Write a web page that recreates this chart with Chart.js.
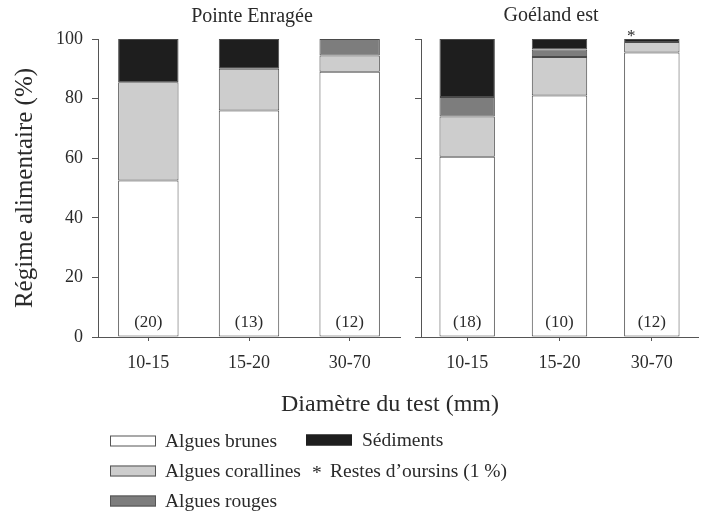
<!DOCTYPE html>
<html lang="fr">
<head>
<meta charset="utf-8">
<title>Régime alimentaire</title>
<script src="https://cdn.jsdelivr.net/npm/chart.js@4/dist/chart.umd.min.js"></script>
<style>
  html, body { margin: 0; padding: 0; background: #ffffff; }
  #wrap { position: relative; width: 706px; height: 513px; overflow: hidden;
          font-family: 'Liberation Serif', 'Times New Roman', serif; color: #2a2a2a; }
  canvas { position: absolute; left: 0; top: 0; }
  .txt { position: absolute; white-space: nowrap; line-height: 1; }
  .panel-title { font-size: 20px; transform: translate(-50%, -50%); }
  .axis-title { font-size: 24px; transform: translate(-50%, -50%); }
  .leg { font-size: 19.5px; transform: translateY(-50%); }
  .sw { position: absolute; height: 9px; width: 44px; border: 1px solid #555; box-sizing: content-box; transform: translateY(-50%); }
</style>
</head>
<body>
<div id="wrap">
  <canvas id="left" width="706" height="513"></canvas>
  <canvas id="right" width="706" height="513"></canvas>

  <div class="txt panel-title" style="left:252px; top:15px;">Pointe Enragée</div>
  <div class="txt panel-title" style="left:551px; top:14px;">Goéland est</div>
  <div class="txt axis-title" style="left:390px; top:403px;">Diamètre du test (mm)</div>

  <!-- legend -->
  <div class="sw" style="left:110px; top:441px; background:#ffffff;"></div>
  <div class="txt leg" style="left:165px; top:441px;">Algues brunes</div>
  <div class="sw" style="left:110px; top:471px; background:#cdcdcd;"></div>
  <div class="txt leg" style="left:165px; top:471px;">Algues corallines</div>
  <div class="sw" style="left:110px; top:501px; background:#7d7d7d;"></div>
  <div class="txt leg" style="left:165px; top:501px;">Algues rouges</div>
  <div class="sw" style="left:306px; top:440px; background:#1e1e1e; border-color:#1e1e1e;"></div>
  <div class="txt leg" style="left:362px; top:440px;">Sédiments</div>
  <div class="txt leg" style="left:312px; top:473px;">*</div>
  <div class="txt leg" style="left:330px; top:471px;">Restes d’oursins (1 %)</div>
</div>

<script>
// Size classes of the test diameter (mm)
const categories = ['10-15', '15-20', '30-70'];

// Diet composition (%) — Pointe Enragée
const brunesPE     = [52.5, 76, 89];
const corallinesPE = [33, 14, 5.5];
const rougesPE     = [0, 0, 5.5];
const sedimentsPE  = [14.5, 10, 0];
const countsPE     = [20, 13, 12];

// Diet composition (%) — Goéland est
const brunesGE     = [60.5, 81, 95.5];
const corallinesGE = [13.5, 13, 3.5];
const rougesGE     = [6.5, 2.5, 0];
const sedimentsGE  = [19.5, 3.5, 1];
const countsGE     = [18, 10, 12];

// Classes where urchin remains (1 %) were found
const oursinsGE = [false, false, true];

const yTicks = [0, 20, 40, 60, 80, 100];

const FONT = "'Liberation Serif', 'Times New Roman', serif";
const INK = '#2a2a2a';
const LINE = '#555555';
const COLORS = {
  brunes: '#ffffff',
  corallines: '#cdcdcd',
  rouges: '#7d7d7d',
  sediments: '#1e1e1e'
};

function datasets(brunes, corallines, rouges, sediments) {
  const base = { borderColor: '#4a4a4a', borderWidth: 1, borderSkipped: false,
                 barPercentage: 0.6, categoryPercentage: 1.0, inflateAmount: 0 };
  return [
    Object.assign({ label: 'Algues brunes', data: brunes, backgroundColor: COLORS.brunes }, base),
    Object.assign({ label: 'Algues corallines', data: corallines, backgroundColor: COLORS.corallines }, base),
    Object.assign({ label: 'Algues rouges', data: rouges, backgroundColor: COLORS.rouges }, base),
    Object.assign({ label: 'Sédiments', data: sediments, backgroundColor: COLORS.sediments }, base)
  ];
}

// Sample sizes written inside the base of each bar, plus the asterisk marker
const annotations = {
  id: 'annotations',
  afterDatasetsDraw(chart, args, opts) {
    const ctx = chart.ctx;
    const xs = chart.scales.x, ys = chart.scales.y;
    ctx.save();
    ctx.fillStyle = INK;
    ctx.font = '17px ' + FONT;
    ctx.textAlign = 'center';
    ctx.textBaseline = 'middle';
    opts.counts.forEach((n, i) => {
      ctx.fillText('(' + n + ')', xs.getPixelForValue(i), ys.getPixelForValue(0) - 14);
    });
    if (opts.marks) {
      const topMeta = chart.getDatasetMeta(chart.data.datasets.length - 1);
      opts.marks.forEach((m, i) => {
        if (!m) return;
        const bar = topMeta.data[i];
        const left = bar.x - bar.width / 2;
        ctx.font = '17px ' + FONT;
        ctx.fillText('*', left + 7, ys.getPixelForValue(100) - 2);
      });
    }
    ctx.restore();
  }
};

function makeChart(id, sets, counts, marks, geom) {
  return new Chart(document.getElementById(id), {
    type: 'bar',
    data: { labels: categories, datasets: sets },
    plugins: [annotations],
    options: {
      responsive: false,
      animation: false,
      layout: { padding: { left: geom.padLeft, right: geom.padRight, top: 39, bottom: 138 } },
      plugins: {
        legend: { display: false },
        tooltip: { enabled: false },
        annotations: { counts: counts, marks: marks }
      },
      scales: {
        x: {
          stacked: true,
          offset: true,
          afterFit(s) { s.height = 38; },
          grid: { display: true, offset: false, drawOnChartArea: false, drawTicks: true,
                  tickLength: 4, tickColor: LINE, lineWidth: 1 },
          border: { display: true, color: LINE, width: 1 },
          ticks: { color: INK, font: { family: FONT, size: 18 }, padding: 11, maxRotation: 0 }
        },
        y: {
          stacked: true,
          min: 0,
          max: 100,
          afterFit(s) { s.width = geom.yWidth; },
          afterBuildTicks(s) { s.ticks = yTicks.map(v => ({ value: v })); },
          grid: { display: true, drawOnChartArea: false, drawTicks: true,
                  tickLength: 6, tickColor: LINE, lineWidth: 1 },
          border: { display: true, color: LINE, width: 1 },
          ticks: { display: geom.showTicks, color: INK, font: { family: FONT, size: 18 }, padding: 9 },
          title: { display: geom.showTitle, text: 'Régime alimentaire (%)', color: INK,
                   font: { family: FONT, size: 25 }, padding: { top: 4, bottom: 0 } }
        }
      }
    }
  });
}

makeChart('left', datasets(brunesPE, corallinesPE, rougesPE, sedimentsPE), countsPE, null,
          { padLeft: 6, padRight: 306, yWidth: 92, showTicks: true, showTitle: true });
makeChart('right', datasets(brunesGE, corallinesGE, rougesGE, sedimentsGE), countsGE, oursinsGE,
          { padLeft: 401, padRight: 8, yWidth: 20, showTicks: false, showTitle: false });
</script>
</body>
</html>
